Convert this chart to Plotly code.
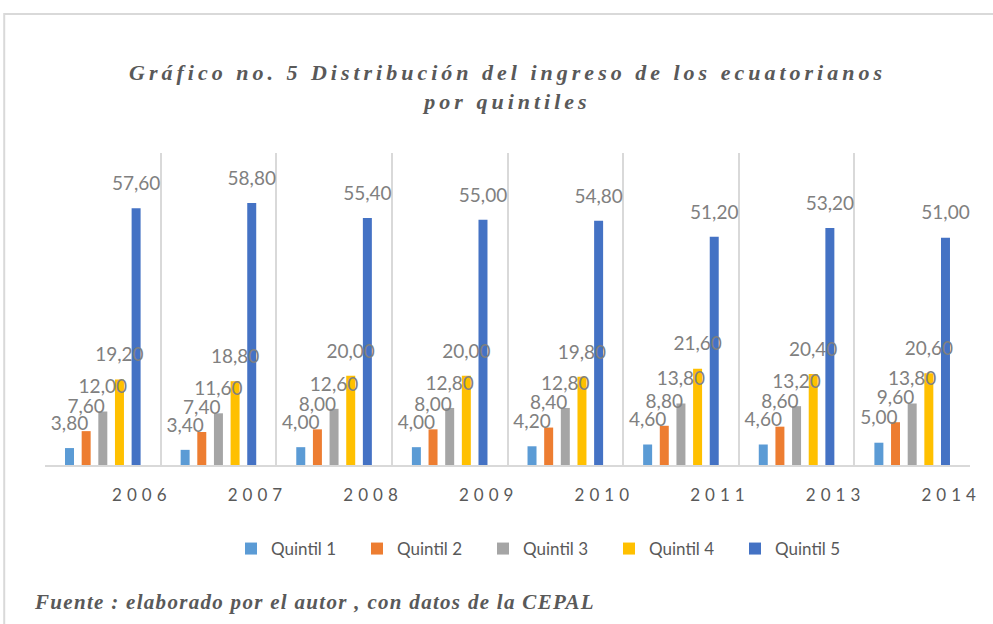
import plotly.graph_objects as go

years = ["2006", "2007", "2008", "2009", "2010", "2011", "2013", "2014"]
series_names = ["Quintil 1", "Quintil 2", "Quintil 3", "Quintil 4", "Quintil 5"]
quintil_1 = [3.80, 3.40, 4.00, 4.00, 4.20, 4.60, 4.60, 5.00]
quintil_2 = [7.60, 7.40, 8.00, 8.00, 8.40, 8.80, 8.60, 9.60]
quintil_3 = [12.00, 11.60, 12.60, 12.80, 12.80, 13.80, 13.20, 13.80]
quintil_4 = [19.20, 18.80, 20.00, 20.00, 19.80, 21.60, 20.40, 20.60]
quintil_5 = [57.60, 58.80, 55.40, 55.00, 54.80, 51.20, 53.20, 51.00]
colors = ["#5B9BD5", "#ED7D31", "#A5A5A5", "#FFC000", "#4472C4"]
title_text = "Gráfico no. 5 Distribución del ingreso de los ecuatorianos<br>por quintiles"
source_text = "Fuente : elaborado por el autor , con datos de la CEPAL"

values = [quintil_1, quintil_2, quintil_3, quintil_4, quintil_5]

fig = go.Figure()
for name, vals, col in zip(series_names, values, colors):
    fig.add_trace(go.Bar(
        x=years, y=vals, name=name, marker=dict(color=col, line=dict(width=0)),
        offsetgroup=name, hoverinfo="x+y+name",
    ))
for name, vals in zip(series_names, values):
    fig.add_trace(go.Scatter(
        x=years, y=vals, mode="markers+text", offsetgroup=name,
        marker=dict(size=20, opacity=0), texttemplate="%{y:.2f}",
        textposition="top center",
        textfont=dict(family="Lato, Carlito, sans-serif", size=19, color="#808080"),
        showlegend=False, hoverinfo="skip", cliponaxis=False,
    ))

fig.update_layout(
    width=993, height=624,
    paper_bgcolor="white", plot_bgcolor="white",
    margin=dict(l=45, r=18, t=153, b=159),
    barmode="group", bargap=0.28, bargroupgap=0.46,
    scattermode="group", scattergap=0.28,
    separators=",.",
    title=dict(
        text="<span style='letter-spacing:4px'>" + title_text + "</span>",
        x=0.5, xref="paper", xanchor="center",
        y=1 - 80 / 624, yanchor="middle",
        font=dict(family="Liberation Serif, Times New Roman, serif", size=22,
                  color="#595959", style="italic", weight="bold"),
    ),
    xaxis=dict(
        type="category", tickson="boundaries", showgrid=True,
        gridcolor="#D9D9D9", gridwidth=1.5,
        showline=True, linecolor="#D9D9D9", linewidth=2,
        ticks="", ticklabelshift=39, ticklabelstandoff=14,
        tickvals=years,
        ticktext=["<span style='letter-spacing:5px'>" + y + "</span>" for y in years],
        tickfont=dict(family="Lato, Carlito, sans-serif", size=17, color="#595959"),
    ),
    yaxis=dict(range=[0, 70], visible=False, showgrid=False, zeroline=False),
    legend=dict(
        orientation="h", x=(232 - 45) / 930, xanchor="left",
        y=(465 - 549) / 312, yanchor="middle",
        font=dict(family="Lato, Carlito, sans-serif", size=17, color="#595959"),
        entrywidth=81, itemwidth=30,
    ),
    showlegend=True,
)

fig.add_annotation(
    text="<span style='letter-spacing:1.3px'>" + source_text + "</span>",
    xref="paper", yref="paper",
    x=(32 - 45) / 930, y=(465 - 602) / 312, xanchor="left", yanchor="middle",
    showarrow=False,
    font=dict(family="Liberation Serif, Times New Roman, serif", size=21,
              color="#595959", style="italic", weight="bold"),
)

fig.add_shape(
    type="rect", xref="paper", yref="paper",
    x0=(4 - 45) / 930, x1=(1010 - 45) / 930,
    y0=(465 - 640) / 312, y1=(465 - 14) / 312,
    line=dict(color="#D9D9D9", width=2), fillcolor="rgba(0,0,0,0)", layer="below",
)

fig.write_html("out.html", config={"displayModeBar": False},
               post_script="document.body.style.margin='0';")
